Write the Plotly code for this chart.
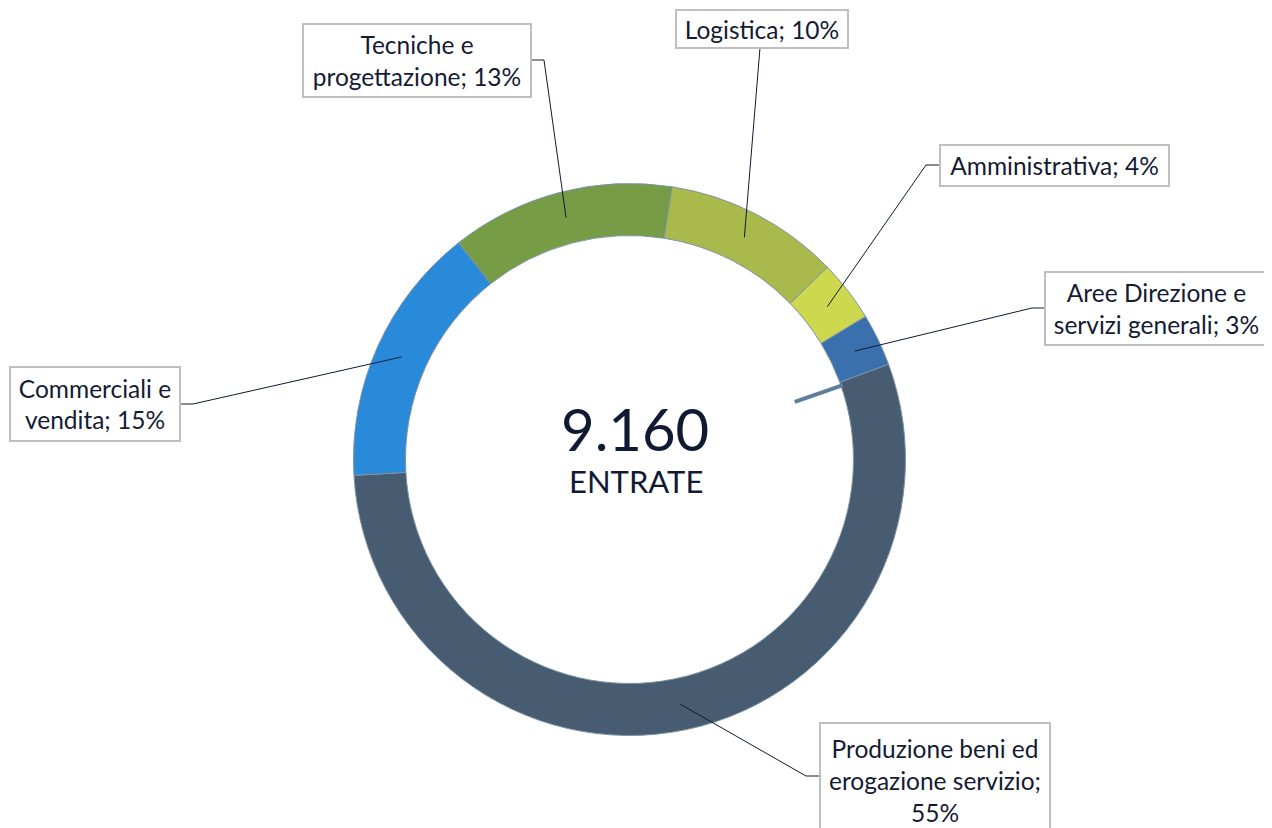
import math
import plotly.graph_objects as go

# ---- data ----
categories = ["Produzione beni ed<br>erogazione servizio;<br>55%",
              "Commerciali e<br>vendita; 15%",
              "Tecniche e<br>progettazione; 13%",
              "Logistica; 10%",
              "Amministrativa; 4%",
              "Aree Direzione e<br>servizi generali; 3%"]
names = ["Produzione beni ed erogazione servizio", "Commerciali e vendita",
         "Tecniche e progettazione", "Logistica", "Amministrativa",
         "Aree Direzione e servizi generali"]
values = [5010, 1400, 1200, 940, 330, 280]   # estimated entries, total 9.160
total_label = "9.160"
center_sub = "ENTRATE"

colors = ["#475C70", "#2A8ADA", "#779C46", "#A9B94C", "#CDD84F", "#3B70AE"]

# ---- layout geometry (pixels of the target picture) ----
W, H = 1272, 828
OFF = 8  # page body margin
CX, CY = 629.5, 459.5
R_OUT, R_IN = 276, 224
ROTATION = 69.8

# label boxes: (x0, y0, x1, y1), attach point, elbow point
boxes = [
    ((820, 723, 1050, 838), (820, 776), (806, 776)),
    ((10, 367, 180, 441), (180, 404), (193, 404)),
    ((303, 24, 531, 97), (531, 60), (544, 60)),
    ((676, 10, 848, 48), (760, 48), None),
    ((940, 145, 1169, 186), (940, 165), (926, 165)),
    ((1045, 272, 1268, 345), (1045, 308), (1032, 308)),
]

def px(x):
    return (x - OFF) / W

def py(y):
    return 1 - (y - OFF) / H

fig = go.Figure()
fig.add_trace(go.Pie(
    labels=names, values=values, sort=False, direction="clockwise",
    rotation=ROTATION, hole=R_IN / R_OUT,
    marker=dict(colors=colors, line=dict(color="#7E93A8", width=1)),
    textinfo="none", hoverinfo="label+percent", showlegend=False,
    domain=dict(x=[px(CX - R_OUT), px(CX + R_OUT)],
                y=[py(CY + R_OUT), py(CY - R_OUT)]),
))

shapes = []
annotations = []
tot = sum(values)
start = ROTATION
r_mid = (R_OUT + R_IN) / 2
for i, v in enumerate(values):
    ang = start + v / tot * 360 / 2
    start += v / tot * 360
    ex = CX + r_mid * math.sin(math.radians(ang))
    ey = CY - r_mid * math.cos(math.radians(ang))
    (bx0, by0, bx1, by1), att, elb = boxes[i]
    pts = [att] + ([elb] if elb else []) + [(ex, ey)]
    path = "M " + " L ".join(f"{px(x):.5f},{py(y):.5f}" for x, y in pts)
    shapes.append(dict(type="path", xref="paper", yref="paper", path=path,
                       line=dict(color="#0F1A33", width=1)))
    annotations.append(dict(
        text=categories[i], x=px((bx0 + bx1) / 2), y=py((by0 + by1) / 2),
        xref="paper", yref="paper", xanchor="center", yanchor="middle",
        showarrow=False, align="center", width=bx1 - bx0 - 2, height=by1 - by0 - 2,
        bgcolor="white", bordercolor="#BFBFBF", borderwidth=2, borderpad=0,
        font=dict(family="Lato", size=24.5, color="#141B34"), valign="middle"))

# stray leader fragment at start boundary
a = math.radians(ROTATION + 1.0)
shapes.append(dict(type="line", xref="paper", yref="paper",
                   x0=px(CX + 175 * math.sin(a)), y0=py(CY - 175 * math.cos(a)),
                   x1=px(CX + 226 * math.sin(a)), y1=py(CY - 226 * math.cos(a)),
                   line=dict(color="#5E7E9F", width=4)))

annotations.append(dict(text=total_label, x=px(CX + 5), y=py(428), xref="paper", yref="paper",
                        showarrow=False, font=dict(family="Lato", size=58, color="#111A33")))
annotations.append(dict(text=center_sub, x=px(CX + 6), y=py(481), xref="paper", yref="paper",
                        showarrow=False, font=dict(family="Lato", size=31, color="#111A33")))

fig.update_layout(width=W, height=H, autosize=False,
                  margin=dict(l=0, r=0, t=0, b=0),
                  paper_bgcolor="white", plot_bgcolor="white",
                  shapes=shapes, annotations=annotations)
fig.write_html("out.html")
